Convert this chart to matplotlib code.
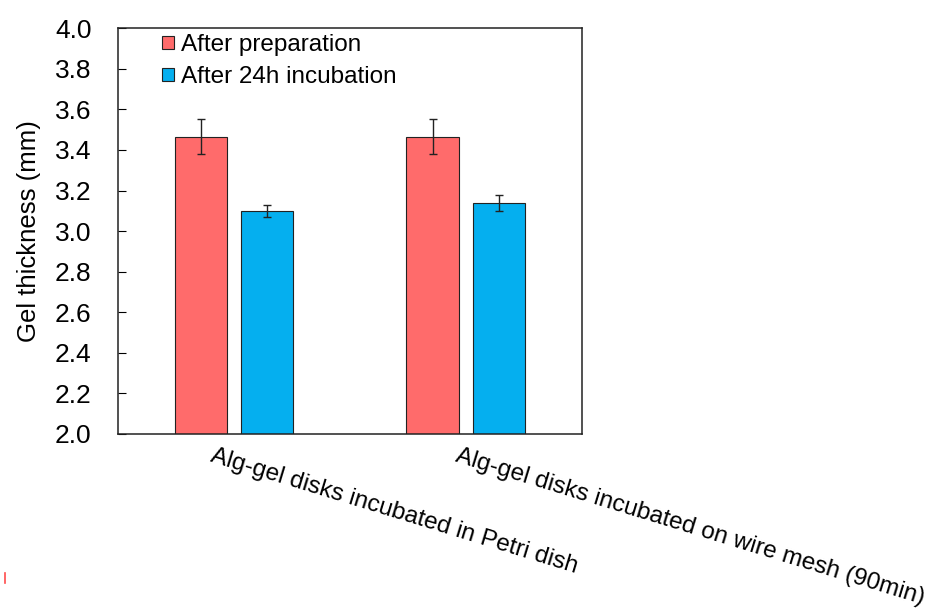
import matplotlib
matplotlib.use("Agg")
import matplotlib.pyplot as plt
import numpy as np
from matplotlib.transforms import ScaledTranslation
from matplotlib.lines import Line2D

categories = ["Alg-gel disks incubated in Petri dish",
              "Alg-gel disks incubated on wire mesh (90min)"]
series_names = ["After preparation", "After 24h incubation"]
after_prep = [3.465, 3.465]
after_prep_err = [0.087, 0.087]
after_24h = [3.098, 3.139]
after_24h_err = [0.03, 0.038]
yticks = [2.0, 2.2, 2.4, 2.6, 2.8, 3.0, 3.2, 3.4, 3.6, 3.8, 4.0]

plt.rcParams['font.family'] = ['Liberation Sans', 'DejaVu Sans']

fig = plt.figure(figsize=(9.36, 6.10), dpi=100)
ax = fig.add_axes([0.1261, 0.2893, 0.4952, 0.664])

x = np.arange(len(categories))
w = 0.225
off = 0.143
red = '#FF6B6B'
blue = '#05AFEF'
ekw = dict(elinewidth=1.0, capthick=1.0, ecolor='#222222')
ax.bar(x - off, after_prep, w, color=red, edgecolor='#222222', linewidth=0.8,
       yerr=after_prep_err, capsize=2.8, error_kw=ekw, label=series_names[0])
ax.bar(x + off, after_24h, w, color=blue, edgecolor='#222222', linewidth=0.8,
       yerr=after_24h_err, capsize=2.8, error_kw=ekw, label=series_names[1])

ax.set_xlim(-0.5, 1.5)
ax.set_ylim(2.0, 4.0)
ax.set_yticks(yticks)
ax.set_yticklabels([f"{v:.1f}" for v in yticks], fontsize=19)
ax.tick_params(axis='y', direction='in', length=6, width=0.8, pad=19)
ax.tick_params(axis='x', length=0, pad=0)
ax.set_xticks(x)
ax.set_xticklabels(categories, fontsize=17.5, rotation=-17, ha='left', va='top',
                   rotation_mode='anchor')
label_dx = [-19, -6]
for lab, dx in zip(ax.get_xticklabels(), label_dx):
    lab.set_transform(lab.get_transform() + ScaledTranslation(dx/100, -11/100, fig.dpi_scale_trans))
for s in ax.spines.values():
    s.set_linewidth(1.1)
    s.set_color('#222222')
ax.set_ylabel("Gel thickness (mm)", fontsize=18.5, labelpad=10)

leg = ax.legend(loc='upper left', bbox_to_anchor=(0.058, 1.028), frameon=False, fontsize=17.5,
                handlelength=0.48, handleheight=0.48, handletextpad=0.32, labelspacing=0.42,
                borderaxespad=0.3)
for p in leg.get_patches():
    p.set_edgecolor('#222222')
    p.set_linewidth(0.8)

fig.add_artist(Line2D([5/936, 5/936], [1-573/610, 1-583/610], color='red', lw=1.2, alpha=0.7))

fig.savefig("out.png", dpi=100)
